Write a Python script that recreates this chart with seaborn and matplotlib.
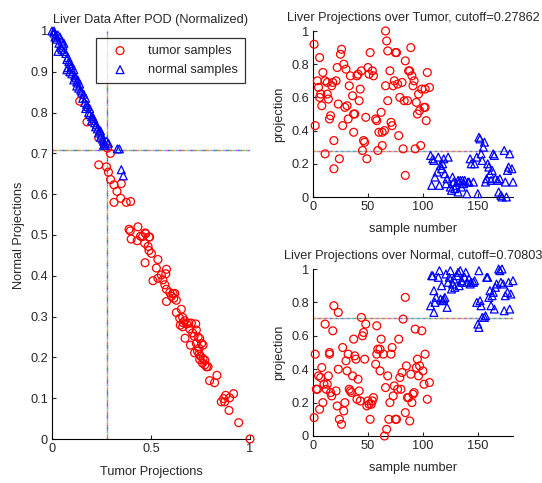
import matplotlib
matplotlib.use("Agg")
import matplotlib.pyplot as plt
import seaborn as sns
import pandas as pd

# ---- left panel: tumor vs normal projections ----
tumor_x = [0.14, 0.177, 0.236, 0.28, 0.295, 0.236, 0.275, 0.285, 0.296, 0.313, 0.35, 0.328,
           0.347, 0.313, 0.375, 0.397, 0.389, 0.395, 0.434, 0.40, 0.447, 0.47, 0.49, 0.43,
           0.457, 0.473, 0.493, 0.468, 0.485, 0.49, 0.502, 0.47, 0.535, 0.527, 0.578, 0.51,
           0.535, 0.552, 0.56, 0.575, 0.57, 0.578, 0.578, 0.595, 0.612, 0.603, 0.615, 0.62,
           0.628, 0.628, 0.653, 0.645, 0.66, 0.648, 0.662, 0.67, 0.68, 0.69, 0.672, 0.695,
           0.699, 0.704, 0.726, 0.729, 0.718, 0.738, 0.746, 0.729, 0.755, 0.763, 0.743, 0.72,
           0.743, 0.75, 0.763, 0.746, 0.772, 0.76, 0.772, 0.78, 0.788, 0.796, 0.821, 0.833,
           0.855, 0.867, 0.877, 0.872, 0.897, 0.917, 0.894, 0.943, 1.0, 0.66, 0.71, 0.735]
tumor_y = [0.828, 0.777, 0.738, 0.713, 0.70, 0.672, 0.667, 0.654, 0.636, 0.623, 0.626, 0.607,
           0.59, 0.58, 0.58, 0.582, 0.514, 0.51, 0.52, 0.49, 0.497, 0.505, 0.495, 0.486,
           0.496, 0.503, 0.495, 0.48, 0.472, 0.462, 0.455, 0.432, 0.44, 0.419, 0.416, 0.388,
           0.394, 0.402, 0.39, 0.405, 0.378, 0.367, 0.337, 0.359, 0.356, 0.35, 0.345, 0.357,
           0.34, 0.31, 0.318, 0.296, 0.298, 0.279, 0.285, 0.29, 0.282, 0.284, 0.247, 0.27,
           0.23, 0.284, 0.282, 0.267, 0.252, 0.25, 0.246, 0.234, 0.234, 0.23, 0.222, 0.211,
           0.208, 0.203, 0.197, 0.195, 0.193, 0.186, 0.182, 0.177, 0.177, 0.143, 0.138, 0.156,
           0.091, 0.099, 0.107, 0.091, 0.101, 0.111, 0.07, 0.04, 0.0, 0.275, 0.26, 0.215]

normal_x = [0.0, 0.01, 0.02, 0.015, 0.03, 0.025, 0.04, 0.035, 0.05, 0.045, 0.055, 0.06,
            0.07, 0.075, 0.08, 0.085, 0.09, 0.08, 0.095, 0.10, 0.09, 0.11, 0.10, 0.115,
            0.12, 0.125, 0.13, 0.14, 0.135, 0.145, 0.15, 0.16, 0.155, 0.17, 0.165, 0.175,
            0.18, 0.17, 0.185, 0.19, 0.20, 0.21, 0.20, 0.215, 0.22, 0.225, 0.23, 0.235,
            0.24, 0.245, 0.25, 0.255, 0.26, 0.265, 0.27, 0.26, 0.33, 0.34, 0.35, 0.36,
            0.03, 0.06, 0.11, 0.075, 0.125, 0.19, 0.205, 0.245, 0.275, 0.285, 0.01, 0.05]
normal_y = [1.0, 1.0, 0.99, 0.985, 0.99, 0.98, 0.985, 0.97, 0.975, 0.96, 0.965, 0.95,
            0.945, 0.93, 0.935, 0.925, 0.92, 0.91, 0.91, 0.915, 0.90, 0.905, 0.895, 0.89,
            0.885, 0.875, 0.88, 0.87, 0.86, 0.855, 0.85, 0.845, 0.835, 0.835, 0.825, 0.82,
            0.815, 0.81, 0.80, 0.795, 0.79, 0.785, 0.78, 0.775, 0.765, 0.77, 0.76, 0.75,
            0.755, 0.74, 0.745, 0.735, 0.73, 0.725, 0.72, 0.72, 0.711, 0.711, 0.66, 0.645,
            0.95, 0.97, 0.88, 0.905, 0.865, 0.81, 0.79, 0.755, 0.73, 0.725, 0.995, 0.955]

# ---- top right: projection over tumor, by sample number ----
tumor_top_n = [1, 2, 4, 5, 6, 6, 7, 8, 9, 11, 11, 13, 13, 14, 15, 16, 17, 18, 19, 19, 21, 22,
               23, 24, 25, 26, 27, 28, 29, 30, 31, 32, 33, 34, 36, 37, 37, 38, 40, 41, 42, 43,
               44, 45, 46, 47, 48, 49, 50, 51, 52, 54, 55, 57, 58, 59, 60, 62, 63, 63, 65, 66,
               66, 67, 68, 68, 70, 71, 72, 73, 74, 75, 76, 77, 78, 79, 81, 82, 83, 84, 84, 86,
               87, 88, 89, 90, 91, 92, 93, 94, 95, 96, 97, 98, 99, 101, 102, 102, 103, 104, 106]
tumor_top = [0.92, 0.43, 0.70, 0.66, 0.84, 0.60, 0.62, 0.55, 0.75, 0.70, 0.26, 0.62, 0.69, 0.59,
             0.47, 0.49, 0.67, 0.69, 0.34, 0.17, 0.70, 0.78, 0.56, 0.23, 0.86, 0.89, 0.43, 0.80,
             0.54, 0.77, 0.55, 0.47, 0.67, 0.73, 0.61, 0.39, 0.50, 0.50, 0.73, 0.74, 0.58, 0.65,
             0.76, 0.28, 0.34, 0.33, 0.48, 0.23, 0.78, 0.74, 0.87, 0.76, 0.73, 0.47, 0.46, 0.28,
             0.39, 0.51, 0.39, 0.31, 0.40, 1.00, 0.67, 0.94, 0.58, 0.88, 0.76, 0.45, 0.43, 0.67,
             0.70, 0.87, 0.87, 0.68, 0.37, 0.60, 0.69, 0.29, 0.58, 0.13, 0.82, 0.58, 0.76, 0.76,
             0.90, 0.73, 0.67, 0.70, 0.29, 0.57, 0.50, 0.62, 0.52, 0.31, 0.65, 0.54, 0.54, 0.65,
             0.46, 0.75, 0.66]
normal_top_n = [107, 108, 109, 110, 111, 113, 114, 115, 116, 117, 118, 119, 120, 121, 122, 123,
                125, 126, 127, 128, 129, 130, 132, 132, 133, 134, 135, 136, 137, 138, 140, 141,
                142, 143, 144, 146, 147, 149, 150, 151, 152, 153, 154, 155, 156, 157, 158, 159,
                160, 161, 162, 163, 164, 165, 166, 168, 169, 170, 171, 172, 174, 175, 176, 177,
                178, 179, 181, 182]
normal_top = [0.25, 0.07, 0.23, 0.22, 0.12, 0.15, 0.24, 0.07, 0.19, 0.17, 0.20, 0.23, 0.14, 0.08,
              0.11, 0.24, 0.06, 0.04, 0.12, 0.09, 0.05, 0.07, 0.03, 0.10, 0.09, 0.10, 0.06, 0.10,
              0.08, 0.10, 0.02, 0.09, 0.09, 0.23, 0.20, 0.09, 0.20, 0.24, 0.02, 0.36, 0.35, 0.26,
              0.22, 0.30, 0.33, 0.09, 0.11, 0.20, 0.18, 0.14, 0.10, 0.16, 0.26, 0.25, 0.11, 0.10,
              0.03, 0.11, 0.01, 0.00, 0.28, 0.09, 0.00, 0.16, 0.18, 0.26, 0.17, 0.09]

# ---- bottom right: projection over normal, by sample number ----
tumor_bot_n = [1, 2, 3, 4, 5, 6, 7, 8, 9, 10, 11, 12, 13, 14, 15, 15, 16, 17, 18, 19, 21, 22,
               23, 23, 24, 26, 27, 28, 29, 30, 31, 32, 33, 34, 35, 36, 37, 38, 39, 40, 41, 42,
               43, 44, 45, 46, 47, 48, 49, 50, 51, 52, 53, 54, 55, 57, 58, 58, 59, 61, 61, 62,
               64, 65, 66, 67, 68, 69, 70, 71, 72, 73, 74, 75, 76, 77, 78, 79, 80, 81, 82, 84,
               84, 85, 86, 87, 88, 89, 90, 91, 92, 93, 94, 95, 96, 97, 99, 100, 101, 102, 104, 106]
tumor_bot = [0.11, 0.49, 0.28, 0.28, 0.36, 0.16, 0.35, 0.41, 0.20, 0.31, 0.67, 0.28, 0.31, 0.36,
             0.50, 0.49, 0.26, 0.24, 0.63, 0.78, 0.27, 0.18, 0.40, 0.74, 0.10, 0.07, 0.53, 0.15,
             0.20, 0.45, 0.39, 0.49, 0.28, 0.27, 0.26, 0.36, 0.58, 0.48, 0.46, 0.22, 0.34, 0.27,
             0.21, 0.71, 0.60, 0.62, 0.46, 0.67, 0.18, 0.21, 0.19, 0.10, 0.19, 0.21, 0.23, 0.43,
             0.49, 0.66, 0.52, 0.52, 0.39, 0.58, 0.49, 0.00, 0.29, 0.04, 0.36, 0.10, 0.20, 0.49,
             0.53, 0.24, 0.30, 0.10, 0.10, 0.28, 0.58, 0.35, 0.28, 0.38, 0.70, 0.83, 0.14, 0.42,
             0.23, 0.23, 0.09, 0.37, 0.20, 0.25, 0.26, 0.64, 0.41, 0.46, 0.36, 0.42, 0.63, 0.39,
             0.31, 0.49, 0.22, 0.32]
normal_bot_n = [107, 108, 109, 110, 110, 111, 112, 114, 115, 116, 117, 118, 119, 120, 121, 122,
                123, 124, 125, 126, 127, 128, 129, 131, 132, 133, 134, 135, 136, 138, 139, 140,
                142, 143, 144, 146, 147, 149, 150, 151, 151, 152, 153, 154, 156, 157, 158, 159,
                160, 161, 162, 163, 164, 165, 166, 167, 169, 170, 171, 172, 173, 174, 175, 177,
                178, 179, 180, 182]
normal_bot = [0.78, 0.96, 0.96, 0.74, 0.87, 0.80, 0.83, 0.95, 0.99, 0.82, 0.90, 0.81, 0.82, 0.83,
              0.97, 0.77, 0.92, 0.95, 0.99, 0.88, 0.91, 0.94, 0.89, 0.96, 0.98, 0.90, 0.99, 0.93,
              0.92, 0.95, 0.98, 0.92, 0.94, 0.91, 0.92, 0.92, 0.93, 0.80, 0.67, 0.65, 0.99, 0.81,
              0.78, 0.71, 0.71, 0.72, 0.95, 0.95, 0.83, 0.87, 0.78, 0.84, 0.86, 0.76, 0.89, 0.91,
              1.00, 0.99, 0.92, 1.00, 0.91, 0.75, 0.84, 0.86, 0.92, 0.76, 0.85, 0.93]

tumor_cut = 0.27862
normal_cut = 0.70803

sns.set_style("white")
plt.rcParams['font.family'] = ['Liberation Sans', 'DejaVu Sans']
plt.rcParams['font.size'] = 9.2

fig = plt.figure(figsize=(5.42, 4.83), dpi=100)
ax_l = fig.add_axes([52 / 542, 1 - 439 / 483, 198 / 542, 408 / 483])
ax_t = fig.add_axes([313 / 542, 1 - 197 / 483, 200 / 542, 166 / 483])
ax_b = fig.add_axes([313 / 542, 1 - 436 / 483, 200 / 542, 167 / 483])

dot_colors = ['#22aa22', '#3355ff', '#ff44ff', '#22cccc', '#cccc22', '#999999', '#ff5555']


def cutoff_line(ax, val, vertical, lo, hi, gap):
    # matlab-ish multicolour dotted line
    n = len(dot_colors)
    for i, c in enumerate(dot_colors):
        ls = (i * gap, (gap, gap * (n - 1)))
        if vertical:
            ax.plot([val, val], [lo, hi], color=c, lw=1, ls=ls)
        else:
            ax.plot([lo, hi], [val, val], color=c, lw=1, ls=ls)


def scat(ax, x, y, marker, color, label=None):
    df = pd.DataFrame({"x": x, "y": y})
    sns.scatterplot(data=df, x="x", y="y", ax=ax, marker=marker, s=32,
                    facecolor="none", edgecolor=color, linewidth=0.9,
                    label=label, clip_on=False, zorder=3)


# left panel
cutoff_line(ax_l, tumor_cut, True, 0, 1, 1.2)
cutoff_line(ax_l, normal_cut, False, 0, 1, 1.2)
scat(ax_l, tumor_x, tumor_y, "o", "red", "tumor samples")
scat(ax_l, normal_x, normal_y, "^", "blue", "normal samples")
ax_l.set_xlim(0, 1)
ax_l.set_ylim(0, 1)
ax_l.set_xticks([0, 0.5, 1])
ax_l.set_xticklabels(["0", "0.5", "1"])
ax_l.set_yticks([i / 10 for i in range(11)])
ax_l.set_yticklabels(["0"] + ["0.%d" % i for i in range(1, 10)] + ["1"])
ax_l.set_title("Liver Data After POD (Normalized)", fontsize=9.2, pad=6)
ax_l.set_xlabel("Tumor Projections", labelpad=8)
ax_l.set_ylabel("Normal Projections", labelpad=4)
leg = ax_l.legend(loc="upper right", bbox_to_anchor=(0.975, 0.983), borderaxespad=0,
                  frameon=True, fancybox=False, edgecolor="black", fontsize=9.2,
                  handlelength=2.6, handletextpad=0.9, borderpad=0.55, labelspacing=0.55)
leg.get_frame().set_linewidth(0.9)

# right panels
cutoff_line(ax_t, tumor_cut, False, 0, 182, 0.6)
scat(ax_t, tumor_top_n, tumor_top, "o", "red")
scat(ax_t, normal_top_n, normal_top, "^", "blue")
ax_t.set_title("Liver Projections over Tumor, cutoff=0.27862", fontsize=9.2, pad=7)

cutoff_line(ax_b, normal_cut, False, 0, 182, 0.6)
scat(ax_b, tumor_bot_n, tumor_bot, "o", "red")
scat(ax_b, normal_bot_n, normal_bot, "^", "blue")
ax_b.set_title("Liver Projections over Normal, cutoff=0.70803", fontsize=9.2, pad=7)

for ax in (ax_t, ax_b):
    ax.set_xlim(0, 182)
    ax.set_ylim(0, 1)
    ax.set_xticks([0, 50, 100, 150])
    ax.set_yticks([0, 0.2, 0.4, 0.6, 0.8, 1])
    ax.set_yticklabels(["0", "0.2", "0.4", "0.6", "0.8", "1"])
    ax.set_xlabel("sample number", labelpad=7)
    ax.set_ylabel("projection", labelpad=4)

for ax in (ax_l, ax_t, ax_b):
    sns.despine(ax=ax)
    for s in ("left", "bottom"):
        ax.spines[s].set_color("black")
        ax.spines[s].set_linewidth(0.8)
    ax.tick_params(direction="in", length=3, width=0.8, left=True, bottom=True,
                   labelsize=9.2, pad=3)

fig.savefig("out.png", dpi=100)
